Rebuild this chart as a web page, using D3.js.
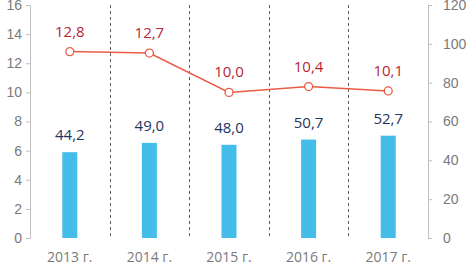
<!DOCTYPE html>
<html>
<head>
<meta charset="utf-8">
<script src="https://cdn.jsdelivr.net/npm/d3@7"></script>
<style>
  body { margin: 0; background: #fff; }
  svg { display: block; font-family: "Open Sans", sans-serif; }
</style>
</head>
<body>
<svg id="chart" width="468" height="265"></svg>
<script>
const years = ['2013 г.', '2014 г.', '2015 г.', '2016 г.', '2017 г.'];
const barValues = [44.2, 49.0, 48.0, 50.7, 52.7];   // right axis
const lineValues = [12.8, 12.7, 10.0, 10.4, 10.1];  // left axis
const leftTicks = [0, 2, 4, 6, 8, 10, 12, 14, 16];
const rightTicks = [0, 20, 40, 60, 80, 100, 120];

const fmt = v => v.toFixed(1).replace('.', ',');

let margin = { top: 5, left: 30, right: 40, bottom: 27 },
  width = 468 - margin.left - margin.right,
  height = 265 - margin.top - margin.bottom;

let svg = d3.select('#chart');
let g = svg.append('g')
  .attr('transform', 'translate(' + margin.left + ',' + margin.top + ')');

let x = d3.scaleBand().domain(years).range([0, width]);
let yLeft = d3.scaleLinear().domain([0, 16]).range([height, 0]);
let yRight = d3.scaleLinear().domain([0, 120]).range([height, 0]);

// dashed separators between years
g.selectAll('.sep')
  .data(years.slice(1))
  .enter().append('line')
  .attr('x1', d => Math.round(x(d)) + 0.5)
  .attr('x2', d => Math.round(x(d)) + 0.5)
  .attr('y1', 0)
  .attr('y2', height)
  .attr('stroke', '#5f5f5f')
  .attr('stroke-dasharray', '3,3');

// left axis
let leftAxis = g.append('g')
  .call(d3.axisLeft(yLeft).tickValues(leftTicks).tickSize(4).tickPadding(4));
// right axis
let rightAxis = g.append('g')
  .attr('transform', 'translate(' + width + ',0)')
  .call(d3.axisRight(yRight).tickValues(rightTicks).tickSize(4).tickPadding(11));

[leftAxis, rightAxis].forEach(a => {
  a.select('.domain').attr('stroke', '#bfbfbf');
  a.selectAll('.tick line').attr('stroke', '#bfbfbf');
  a.selectAll('.tick text').attr('fill', '#7a7a7a').style('font-size', '14px');
});

// x labels
g.selectAll('.xlab')
  .data(years)
  .enter().append('text')
  .attr('x', d => x(d) + x.bandwidth() / 2)
  .attr('y', height + 24)
  .attr('text-anchor', 'middle')
  .attr('fill', '#7a7a7a')
  .style('font-size', '14px')
  .text(d => d);

// bars
let barW = 15;
g.selectAll('.bar')
  .data(barValues)
  .enter().append('rect')
  .attr('x', (d, i) => x(years[i]) + x.bandwidth() / 2 - barW / 2)
  .attr('y', d => yRight(d))
  .attr('width', barW)
  .attr('height', d => height - yRight(d))
  .attr('fill', '#44bde8');

g.selectAll('.barlab')
  .data(barValues)
  .enter().append('text')
  .attr('x', (d, i) => x(years[i]) + x.bandwidth() / 2)
  .attr('y', d => yRight(d) - 12)
  .attr('text-anchor', 'middle')
  .attr('fill', '#26355e')
  .style('font-size', '15px')
  .text(fmt);

// line
let line = d3.line()
  .x((d, i) => x(years[i]) + x.bandwidth() / 2)
  .y(d => yLeft(d));

g.append('path')
  .datum(lineValues)
  .attr('d', line)
  .attr('fill', 'none')
  .attr('stroke', '#ea5b45')
  .attr('stroke-width', 1.5);

g.selectAll('.dot')
  .data(lineValues)
  .enter().append('circle')
  .attr('cx', (d, i) => x(years[i]) + x.bandwidth() / 2)
  .attr('cy', d => yLeft(d))
  .attr('r', 4)
  .attr('fill', '#fff')
  .attr('stroke', '#ea5b45')
  .attr('stroke-width', 1.3);

g.selectAll('.linelab')
  .data(lineValues)
  .enter().append('text')
  .attr('x', (d, i) => x(years[i]) + x.bandwidth() / 2)
  .attr('y', d => yLeft(d) - 15)
  .attr('text-anchor', 'middle')
  .attr('fill', '#b8243a')
  .style('font-size', '15px')
  .text(fmt);
</script>
</body>
</html>
